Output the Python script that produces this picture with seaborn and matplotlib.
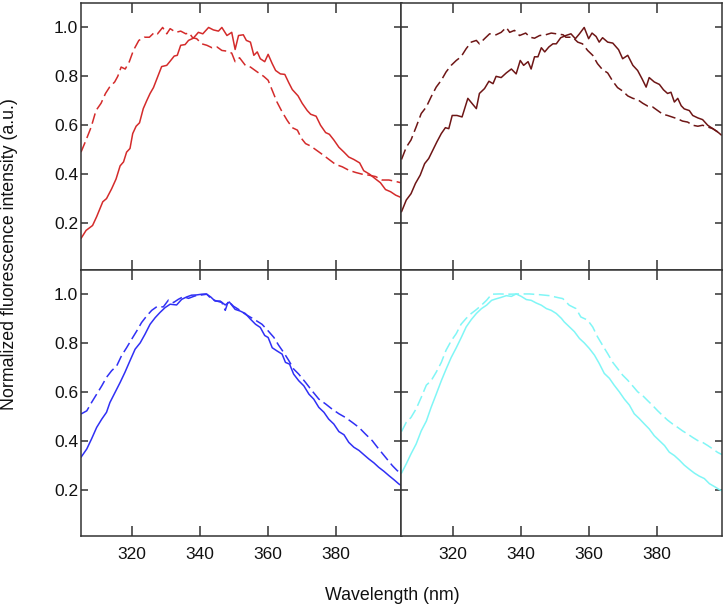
import numpy as np
import pandas as pd
import matplotlib
matplotlib.use("Agg")
import matplotlib.pyplot as plt
import seaborn as sns

# ---------------- data ----------------
# Top-left (red)
tl_solid_wl = [305, 306.5, 308.4, 309.6, 311.4, 312.5, 314, 315.3, 316.5, 317.5, 318.4, 319.4, 320.2, 321.2,
               322.2, 323.3, 324.3, 325.3, 326.3, 327.5, 328.7, 330.2, 331.2, 332.4, 333.3, 334.3, 335.6, 336.6,
               338, 339.5, 340.8, 342.5, 343.9, 345.4, 346.4, 347.9, 349.3, 350.3, 351.3, 352.7, 353.6, 354.8,
               355.8, 356.8, 357.7, 359, 360, 361.2, 362.2, 363.6, 364.9, 366.1, 367.1, 368.8, 370, 371.5, 372.5,
               374.1, 375.4, 376.9, 378, 379.3, 380.8, 382.3, 383.7, 385.2, 386.9, 388.1, 389.8, 391.6, 393,
               394.5, 396, 397.5, 399]
tl_solid_y = [0.137, 0.17, 0.19, 0.226, 0.287, 0.30, 0.34, 0.38, 0.434, 0.45, 0.49, 0.505, 0.566, 0.596,
              0.61, 0.668, 0.70, 0.73, 0.754, 0.797, 0.84, 0.845, 0.862, 0.883, 0.886, 0.927, 0.93, 0.947,
              0.956, 0.98, 0.974, 1.0, 0.99, 0.985, 1.0, 0.967, 0.98, 0.91, 0.967, 0.97, 0.947, 0.94,
              0.886, 0.90, 0.872, 0.86, 0.89, 0.852, 0.824, 0.81, 0.808, 0.773, 0.746, 0.72, 0.69, 0.66, 0.645,
              0.637, 0.60, 0.57, 0.563, 0.54, 0.51, 0.49, 0.47, 0.46, 0.446, 0.414, 0.40, 0.38, 0.365,
              0.337, 0.328, 0.314, 0.305]
tl_dash_wl = [305, 306.5, 308, 309.4, 310.9, 312.2, 313.4, 314.9, 315.8, 316.8, 318, 319.2, 320.4, 322,
              323.6, 325.1, 326.6, 327.5, 329, 330.2, 331.2, 332.9, 334.3, 335.8, 336.8, 337.8, 339, 340.5,
              342, 343.5, 345, 346.4, 347.9, 349.3, 350.3, 351.6, 353.3, 354.8, 356.8, 358.7, 360, 361.2,
              362.6, 364.1, 365.6, 367.1, 368.6, 369.8, 371, 372.5, 374, 376, 377.9, 379.8, 381.8, 383.7,
              385.7, 387.6, 389.6, 391.6, 393.5, 395.5, 397.5, 399]
tl_dash_y = [0.49, 0.54, 0.593, 0.66, 0.69, 0.73, 0.756, 0.777, 0.80, 0.838, 0.83, 0.86, 0.906, 0.947,
             0.96, 0.96, 0.98, 0.974, 1.0, 0.974, 0.995, 0.98, 0.985, 0.974, 0.978, 0.958, 0.954, 0.933,
             0.927, 0.917, 0.92, 0.906, 0.903, 0.895, 0.86, 0.876, 0.845, 0.838, 0.818, 0.80, 0.784, 0.743,
             0.695, 0.655, 0.62, 0.59, 0.58, 0.546, 0.525, 0.515, 0.50, 0.48, 0.46, 0.44, 0.43, 0.416,
             0.407, 0.40, 0.396, 0.39, 0.376, 0.376, 0.37, 0.365]

# Top-right (dark red)
tr_solid_wl = [305, 306.4, 307.8, 309.1, 310.5, 311.8, 313, 314.2, 315.4, 316.7, 317.9, 318.9, 319.9, 321.3,
               322.8, 324.5, 325.8, 327, 327.9, 329.4, 330.7, 331.9, 332.8, 334.3, 335.8, 337.3, 338.7, 339.9,
               340.9, 342.2, 343.1, 344.1, 345.1, 346.1, 347.1, 348.3, 349.5, 350.5, 351.8, 353.3, 354.8,
               356.1, 357.3, 358.7, 360, 361, 362.2, 363.1, 364.1, 365.6, 367.1, 368.8, 370, 371.5, 373, 374.4,
               375.7, 376.9, 377.8, 379.3, 380.8, 382, 383.2, 384.2, 385.2, 386.2, 387.2, 388.1, 389.6, 390.6,
               392.1, 393.5, 395, 396.5, 397.9, 399]
tr_solid_y = [0.246, 0.294, 0.32, 0.362, 0.396, 0.443, 0.464, 0.498, 0.532, 0.566, 0.59, 0.586, 0.64, 0.64,
              0.634, 0.71, 0.688, 0.668, 0.73, 0.75, 0.78, 0.77, 0.80, 0.795, 0.814, 0.83, 0.81, 0.865,
              0.845, 0.86, 0.83, 0.88, 0.88, 0.917, 0.90, 0.92, 0.933, 0.933, 0.958, 0.967, 0.974,
              0.954, 0.974, 1.0, 0.954, 0.977, 0.963, 0.94, 0.958, 0.94, 0.936, 0.909, 0.872, 0.886, 0.845, 0.824,
              0.79, 0.756, 0.795, 0.777, 0.767, 0.745, 0.73, 0.735, 0.695, 0.71, 0.68, 0.667, 0.66, 0.64,
              0.63, 0.623, 0.60, 0.586, 0.573, 0.56]
tr_dash_wl = [305, 306.4, 307.8, 309.3, 310.8, 312.3, 313.7, 315.2, 316.7, 318.1, 319.6, 321.1, 322.5, 324,
              325.5, 327, 327.9, 329.4, 330.9, 332.8, 334.3, 335.8, 336.8, 338.2, 339.7, 341.5, 342.8, 344.1,
              345.6, 347.4, 349, 350.5, 352.5, 353.3, 355.3, 356.8, 358.2, 359.7, 361.2, 362.6, 364.1, 365.6,
              367.1, 368.5, 370, 371.5, 373, 374.4, 375.9, 377.4, 378.8, 380.3, 381.8, 383.2, 384.7, 386.2,
              387.6, 389.1, 390.6, 392.1, 393.5, 395, 396.5, 397.9, 399]
tr_dash_y = [0.46, 0.51, 0.54, 0.593, 0.648, 0.675, 0.716, 0.756, 0.784, 0.818, 0.845, 0.865, 0.88, 0.913,
             0.94, 0.947, 0.933, 0.954, 0.974, 0.97, 0.98, 1.0, 0.98, 0.988, 0.967, 0.977, 0.96, 0.956,
             0.967, 0.97, 0.977, 0.974, 0.97, 0.96, 0.96, 0.94, 0.933, 0.906, 0.886, 0.852, 0.827, 0.814,
             0.78, 0.754, 0.74, 0.72, 0.71, 0.705, 0.69, 0.678, 0.675, 0.66, 0.645, 0.64, 0.633, 0.626,
             0.617, 0.613, 0.60, 0.596, 0.60, 0.593, 0.586, 0.573, 0.573]

# Bottom-left (blue)
bl_solid_wl = [305, 306.7, 308.1, 309.6, 311.1, 312.5, 313.5, 315, 316.5, 317.9, 319.4, 320.9, 322.4, 323.8,
               325.3, 326.8, 328.2, 329.7, 331.2, 333.1, 334.6, 336.1, 337.5, 339, 340.5, 341.8, 343.1, 344.4,
               345.9, 347.4, 348.6, 350.3, 351.8, 353.3, 354.8, 356.3, 357.7, 359, 360, 361.2, 362.6, 364.1,
               365.1, 366.3, 367.5, 369, 370.5, 372, 373.4, 374.9, 376.4, 377.8, 379.3, 380.8, 382.3, 383.7,
               385.2, 386.7, 388.1, 389.6, 391.1, 392.5, 394, 395.5, 397, 398.4, 399.2]
bl_solid_y = [0.332, 0.366, 0.407, 0.454, 0.488, 0.516, 0.556, 0.597, 0.638, 0.679, 0.727, 0.774, 0.80, 0.835,
              0.876, 0.903, 0.924, 0.944, 0.958, 0.955, 0.978, 0.988, 0.995, 0.996, 0.999, 1.0, 0.988, 0.971,
              0.971, 0.955, 0.967, 0.937, 0.93, 0.92, 0.897, 0.876, 0.863, 0.83, 0.822, 0.78, 0.767, 0.754,
              0.72, 0.713, 0.672, 0.645, 0.624, 0.59, 0.57, 0.536, 0.516, 0.488, 0.468, 0.437, 0.424, 0.393,
              0.373, 0.36, 0.343, 0.325, 0.309, 0.291, 0.275, 0.257, 0.24, 0.223, 0.216]
bl_dash_wl = [305, 306.7, 308.1, 309.6, 311.1, 312.5, 314, 315.5, 316.9, 318.4, 319.9, 321.4, 322.8, 324.3,
              325.8, 327.3, 329.2, 330.7, 332.2, 333.6, 335.1, 336.6, 338.5, 340.5, 342, 343.4, 344.9, 346.4,
              347.4, 348.3, 349.8, 351.3, 353.3, 355.8, 358.2, 360, 361.7, 363.1, 364.6, 366.1, 367.5, 369,
              371, 372.9, 374.9, 376.9, 378.8, 380.8, 382.7, 384.7, 386.7, 388.6, 390.6, 392.5, 394.5, 396.5,
              397.9, 399.2]
bl_dash_y = [0.509, 0.522, 0.556, 0.59, 0.624, 0.659, 0.686, 0.706, 0.747, 0.78, 0.815, 0.849, 0.883, 0.91,
             0.933, 0.948, 0.947, 0.975, 0.965, 0.978, 0.989, 0.982, 0.992, 0.996, 0.999, 0.978, 0.971, 0.965,
             0.933, 0.971, 0.95, 0.937, 0.917, 0.897, 0.876, 0.849, 0.822, 0.79, 0.76, 0.727, 0.693, 0.672,
             0.638, 0.604, 0.57, 0.55, 0.529, 0.51, 0.495, 0.475, 0.454, 0.427, 0.40, 0.366, 0.332, 0.298,
             0.278, 0.264]

# Bottom-right (cyan)
br_solid_wl = [305, 306.4, 307.8, 309.3, 310.8, 312.3, 313.7, 315.2, 316.7, 318.1, 319.6, 321.1, 322.5, 324,
               325.5, 327, 328.5, 330, 331.5, 332.8, 334.3, 335.8, 337.3, 338.7, 340.2, 341.7, 343.1, 344.6,
               346.1, 347.6, 349, 350.5, 352, 352.8, 354.3, 355.8, 357.3, 358.7, 360.2, 361.7, 363.1, 364.6,
               366.1, 367.5, 369, 370.5, 372, 373.4, 374.9, 376.4, 377.8, 379.3, 380.8, 382.3, 383.7, 385.2,
               386.7, 388.1, 389.6, 391.1, 392.5, 394, 395.5, 397, 398.4, 399.2]
br_solid_y = [0.267, 0.305, 0.346, 0.386, 0.44, 0.48, 0.536, 0.59, 0.645, 0.692, 0.74, 0.78, 0.82, 0.865,
              0.895, 0.92, 0.94, 0.954, 0.974, 0.98, 0.986, 0.993, 0.99, 1.0, 0.99, 0.977, 0.974, 0.963,
              0.954, 0.94, 0.933, 0.92, 0.90, 0.886, 0.866, 0.846, 0.818, 0.80, 0.777, 0.75, 0.716, 0.675,
              0.655, 0.627, 0.60, 0.57, 0.545, 0.51, 0.49, 0.468, 0.448, 0.42, 0.40, 0.38, 0.353, 0.339,
              0.32, 0.30, 0.283, 0.267, 0.255, 0.245, 0.224, 0.212, 0.20, 0.195]
br_dash_wl = [305, 306.4, 307.8, 309.3, 310.8, 312.3, 313.7, 315.2, 316.7, 318.1, 319.6, 321.1, 322.5, 324,
              325.5, 327, 328.5, 330, 331.5, 333.8, 336.8, 339.7, 342.6, 345.6, 348.5, 351, 352.4, 354.3,
              356.3, 357.7, 359.7, 361.2, 362.6, 364.1, 365.6, 367.1, 368.5, 370, 371.5, 373, 374.4, 375.9,
              377.4, 378.8, 380.3, 381.8, 383.2, 384.7, 386.2, 387.6, 389.1, 390.6, 392.1, 393.5, 395, 396.5,
              397.9, 399.2]
br_dash_y = [0.437, 0.475, 0.495, 0.53, 0.577, 0.627, 0.645, 0.68, 0.72, 0.77, 0.808, 0.838, 0.876, 0.90,
             0.92, 0.936, 0.954, 0.974, 0.999, 1.0, 0.999, 1.0, 1.0, 0.997, 0.993, 0.985, 0.981, 0.954,
             0.94, 0.906, 0.893, 0.865, 0.825, 0.79, 0.756, 0.72, 0.695, 0.668, 0.647, 0.623, 0.60, 0.584,
             0.563, 0.544, 0.522, 0.502, 0.484, 0.468, 0.454, 0.44, 0.427, 0.413, 0.40, 0.393, 0.38, 0.366,
             0.352, 0.343]

x_ticks = [320, 340, 360, 380]
y_ticks = [0.2, 0.4, 0.6, 0.8, 1.0]
y_ticklabels = ["0.2", "0.4", "0.6", "0.8", "1.0"]
x_label = "Wavelength (nm)"
y_label = "Normalized fluorescence intensity (a.u.)"

panels = [
    (0, 0, "#d42b2b", tl_solid_wl, tl_solid_y, tl_dash_wl, tl_dash_y),
    (0, 1, "#6e1616", tr_solid_wl, tr_solid_y, tr_dash_wl, tr_dash_y),
    (1, 0, "#3030f5", bl_solid_wl, bl_solid_y, bl_dash_wl, bl_dash_y),
    (1, 1, "#80f6f6", br_solid_wl, br_solid_y, br_dash_wl, br_dash_y),
]

# ---------------- style ----------------
sns.set_style("white")
plt.rcParams["font.family"] = ["Liberation Sans", "DejaVu Sans"]

fig = plt.figure(figsize=(7.25, 6.09), dpi=100)
gs = fig.add_gridspec(2, 2, left=81/725, right=722/725, top=1-3/609, bottom=1-536/609,
                      wspace=0, hspace=0)

spine_col = "#333333"
for r, c, col, swl, sy, dwl, dy in panels:
    ax = fig.add_subplot(gs[r, c])
    sns.lineplot(x=swl, y=sy, ax=ax, color=col, lw=1.1, estimator=None, sort=False)
    sns.lineplot(x=dwl, y=dy, ax=ax, color=col, lw=1.1, estimator=None, sort=False,
                 linestyle=(0, (7, 3)))
    ax.set_xlim(305, 399.2)
    ax.set_ylim(0.01, 1.1)
    ax.set_xticks(x_ticks)
    ax.set_yticks(y_ticks)
    ax.set_yticklabels(y_ticklabels)
    for s in ax.spines.values():
        s.set_color(spine_col)
        s.set_linewidth(1.1)
        s.set_visible(True)
    ax.tick_params(axis="both", direction="in", color=spine_col, width=1.1,
                   top=True, right=True, bottom=True, left=True,
                   labelsize=12.5, labelcolor="#111111")
    ax.tick_params(axis="x", length=7, pad=8)
    ax.tick_params(axis="y", length=5, pad=2)
    ax.tick_params(labelbottom=(r == 1), labelleft=(c == 0))
    ax.set_xlabel("")
    ax.set_ylabel("")
    ax.grid(False)

fig.text(392/725, 1-596/609, x_label, ha="center", va="center", fontsize=12.8, color="#111111")
fig.text(10/725, 1-254/609, y_label, ha="center", va="center", rotation=90, fontsize=12.8,
         color="#111111")

fig.savefig("out.png", dpi=100, facecolor="white")
